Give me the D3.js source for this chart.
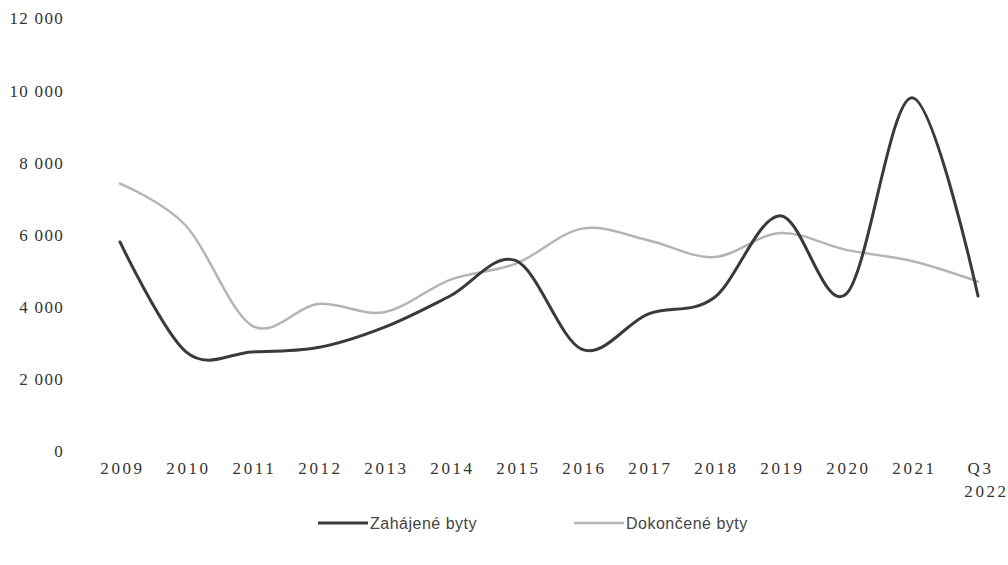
<!DOCTYPE html>
<html>
<head>
<meta charset="utf-8">
<script src="https://cdn.jsdelivr.net/npm/d3@7"></script>
<style>
  html, body { margin: 0; padding: 0; background: #fff; }
  svg { display: block; }
</style>
</head>
<body>
<svg id="chart" width="1008" height="565"></svg>
<script>
const categories = ["2009","2010","2011","2012","2013","2014","2015","2016","2017","2018","2019","2020","2021","Q3 2022"];
const zahajene = [5800, 2750, 2750, 2870, 3430, 4300, 5280, 2820, 3800, 4250, 6530, 4350, 9800, 4300];
const dokoncene = [7420, 6250, 3480, 4080, 3850, 4750, 5200, 6170, 5850, 5380, 6050, 5580, 5270, 4700];
const yTicks = [0, 2000, 4000, 6000, 8000, 10000, 12000];
const seriesNames = ["Zahájené byty", "Dokončené byty"];

const svg = d3.select("#chart");
const x = d3.scalePoint().domain(categories).range([120, 978]);
const y = d3.scaleLinear().domain([0, 12000]).range([451, 18.5]);

// Y axis labels
const yAxis = d3.axisLeft(y).tickValues(yTicks).tickSize(0).tickPadding(0)
  .tickFormat(d => d3.format(",")(d).replace(/,/g, " "));
const gy = svg.append("g").attr("transform", "translate(64,0)").call(yAxis);
gy.select(".domain").remove();
gy.selectAll("text")
  .attr("font-family", "Liberation Serif, serif")
  .attr("font-size", 17)
  .attr("fill", "#333")
  .attr("letter-spacing", "1.3px");

// X axis labels
const xAxis = d3.axisBottom(x).tickSize(0).tickPadding(0).tickFormat(() => "");
const gx = svg.append("g").attr("transform", "translate(0,451)").call(xAxis);
gx.select(".domain").remove();
gx.selectAll(".tick").each(function(d) {
  const parts = d.split(" ");
  const t = d3.select(this).select("text")
    .attr("font-family", "Liberation Serif, serif")
    .attr("font-size", 17)
    .attr("fill", "#333")
    .attr("letter-spacing", "2.6px")
    .attr("text-anchor", "middle")
    .attr("y", 0)
    .attr("dy", 0);
  parts.forEach((p, i) => {
    t.append("tspan").attr("x", i === 0 ? 2 : 8).attr("y", 23 + i * 23).text(p);
  });
});

const line = d3.line()
  .x((d, i) => x(categories[i]))
  .y(d => y(d))
  .curve(d3.curveCardinal.tension(0));

svg.append("path").datum(dokoncene)
  .attr("d", line)
  .attr("fill", "none")
  .attr("stroke", "#b4b4b4")
  .attr("stroke-width", 2.5)
  .attr("stroke-linecap", "round");

svg.append("path").datum(zahajene)
  .attr("d", line)
  .attr("fill", "none")
  .attr("stroke", "#3a3a3a")
  .attr("stroke-width", 3)
  .attr("stroke-linecap", "round");

// Legend
const legend = [
  { name: seriesNames[0], color: "#3a3a3a", w: 3, x0: 318 },
  { name: seriesNames[1], color: "#b4b4b4", w: 2.5, x0: 574 }
];
const lg = svg.append("g");
legend.forEach(l => {
  lg.append("line").attr("x1", l.x0).attr("x2", l.x0 + 50)
    .attr("y1", 523).attr("y2", 523)
    .attr("stroke", l.color).attr("stroke-width", l.w);
  lg.append("text").attr("x", l.x0 + 52).attr("y", 529)
    .attr("font-family", "Liberation Sans, sans-serif")
    .attr("font-size", 16)
    .attr("fill", "#444")
    .attr("letter-spacing", "0.5px")
    .text(l.name);
});
</script>
</body>
</html>
